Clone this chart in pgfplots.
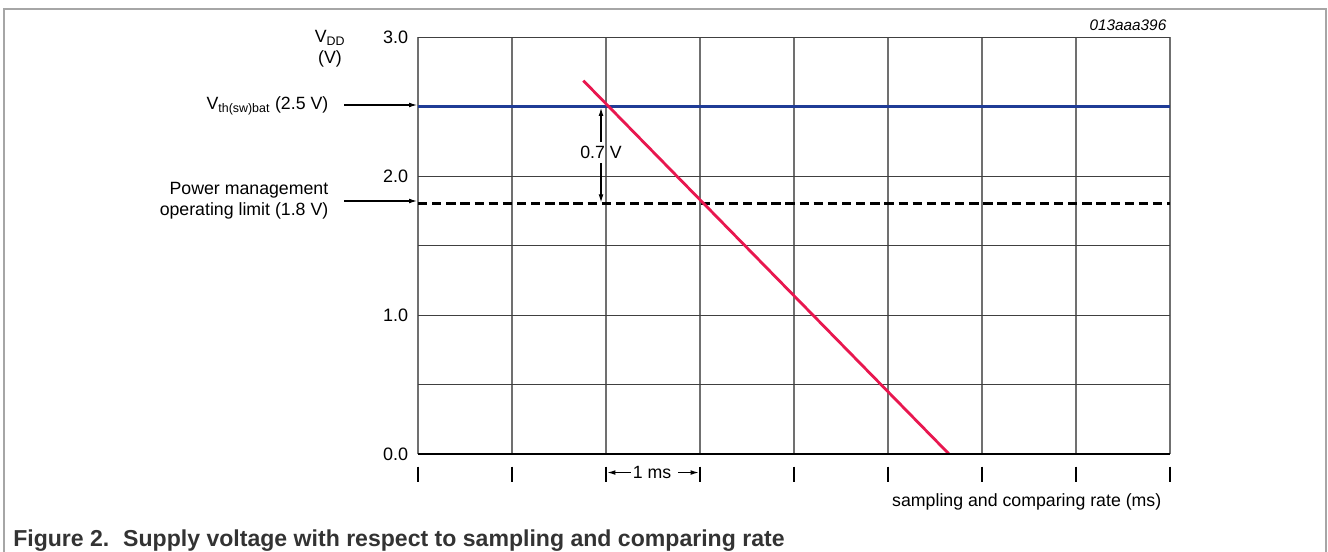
\documentclass[border=0pt]{standalone}
\usepackage{fontspec}
\setmainfont{Liberation Sans}
\usepackage{pgfplots}
\pgfplotsset{compat=1.18}
\usetikzlibrary{arrows.meta}
\definecolor{vblue}{HTML}{1F3C96}
\definecolor{vred}{HTML}{E8174F}
\definecolor{gridgray}{HTML}{707070}
\begin{document}
\begin{tikzpicture}[x=0.75pt,y=-0.75pt,font=\fontsize{13.3}{16}\selectfont,
  arr/.style={-{Latex[length=6pt,width=3.6pt]}, line width=0.8pt}]
\useasboundingbox (0,0) rectangle (1328,552);
\clip (0,0) rectangle (1328,552);
\draw[black!35, line width=1.1pt] (4,600) -- (4,9) -- (1326,9) -- (1326,600);
\begin{axis}[at={(313.5pt,-340.5pt)}, anchor=south west, scale only axis,
  width=564pt, height=312.75pt,
  xmin=0, xmax=8, ymin=0, ymax=3,
  xtick={0,1,2,3,4,5,6,7,8}, xticklabels={},
  ytick={0,1,2,3}, yticklabels={0.0,1.0,2.0,3.0},
  minor ytick={0,0.5,1,1.5,2,2.5,3},
  xmajorgrids=true, ymajorgrids=false, yminorgrids=true,
  major grid style={gridgray, line width=1.3pt},
  minor grid style={black!75, line width=0.7pt},
  major tick length=0pt, minor tick length=0pt,
  axis line style={draw=none},
  tick label style={font=\fontsize{13.5}{16}\selectfont},
  yticklabel style={xshift=-3.8pt},
  clip=false]
\addplot[vblue, line width=2.2pt] coordinates {(0,2.5) (8,2.5)};
\addplot[black, line width=2.2pt, dash pattern=on 7pt off 3.6pt] coordinates {(0,1.8) (8,1.8)};
\addplot[vred, line width=2.1pt] coordinates {(1.759,2.686) (5.649,0)};
\draw[black, line width=1.1pt] (axis cs:0,0) -- (axis cs:8,0);
\pgfplotsinvokeforeach{0,1,2,3,4,5,6,7,8}{
  \draw[black, line width=1.3pt] ([yshift=-9.5pt]axis cs:#1,0) -- ([yshift=-21pt]axis cs:#1,0);
}
\draw[arr] ([yshift=-13.9pt]axis cs:2.263,0) -- ([yshift=-13.9pt]axis cs:2.015,0);
\draw[arr] ([yshift=-13.9pt]axis cs:2.766,0) -- ([yshift=-13.9pt]axis cs:2.985,0);
\node at ([yshift=-13.9pt]axis cs:2.489,0) {1 ms};
\draw[arr] (axis cs:1.947,2.247) -- (axis cs:1.947,2.49);
\draw[arr] (axis cs:1.947,2.094) -- (axis cs:1.947,1.81);
\node at (axis cs:1.947,2.168) {0.7 V};
\end{axis}
\node[align=center] at (330,49) {V\textsubscript{DD}\\(V)};
\node[anchor=east] at (333,106) {V\textsubscript{th(sw)bat} (2.5 V)};
\draw[arr] (344,105) -- (417,105);
\node[anchor=east, align=right] at (333,201) {Power management\\operating limit (1.8 V)};
\draw[arr] (344,201) -- (417,201);
\node[anchor=east, font=\fontsize{11.5}{14}\selectfont\itshape] at (1171,25) {013aaa396};
\node[anchor=east] at (1166,502) {sampling and comparing rate (ms)};
\node[anchor=base west, inner sep=0pt, text=black!80, font=\fontsize{17.3}{20}\selectfont\bfseries] at (13,546) {Figure 2.\hspace{0.6em}Supply voltage with respect to sampling and comparing rate};
\end{tikzpicture}
\end{document}
